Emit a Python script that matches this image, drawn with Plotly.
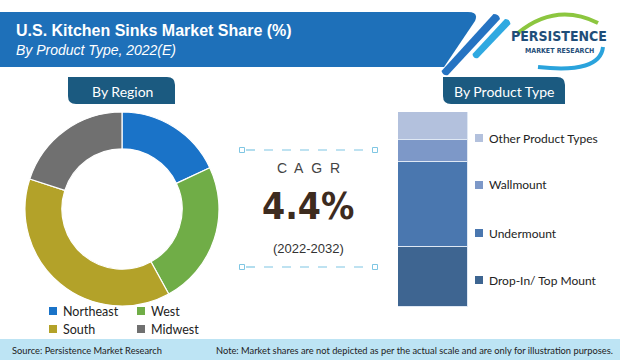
import plotly.graph_objects as go

W, H = 620, 360

# ---------------- data ----------------
region_names = ["Northeast", "West", "South", "Midwest"]
region_values = [18, 24, 38, 20]
region_colors = ["#1a73c8", "#70ad47", "#b3a229", "#707070"]

product_names = ["Drop-In/ Top Mount", "Undermount", "Wallmount", "Other Product Types"]
product_values = [31, 43.5, 11, 14.5]
product_colors = ["#3e6591", "#4a77af", "#7d98c8", "#b3c1dd"]

title_text = "U.S. Kitchen Sinks Market Share (%)"
subtitle_text = "By Product Type, 2022(E)"
cagr_label = "C&nbsp; A&nbsp; G&nbsp; R"
cagr_value = "4.4%"
cagr_period = "(2022-2032)"
source_text = "Source: Persistence Market Research"
note_text = "Note: Market shares are not depicted as per the actual scale and are only for illustration purposes."


def X(px):
    return px / W


def Y(py):
    return 1 - py / H


def P(x, y):
    return f"{X(x):.5f},{Y(y):.5f}"


BODY = "Lato, 'Liberation Sans', sans-serif"

fig = go.Figure()

# donut
cx, cy, r = 122, 209, 97
fig.add_trace(go.Pie(
    labels=region_names, values=region_values, hole=0.62, sort=False,
    direction="clockwise", rotation=0, textinfo="none", hoverinfo="label+percent",
    marker=dict(colors=region_colors, line=dict(color="white", width=1.2)),
    domain=dict(x=[X(cx - r), X(cx + r)], y=[Y(cy + r), Y(cy - r)]),
    showlegend=False,
))

# stacked bar
for name, val, col in zip(product_names, product_values, product_colors):
    fig.add_trace(go.Bar(
        x=[0], y=[val], name=name, width=1,
        marker=dict(color=col, line=dict(color="#dfe8f4", width=1)),
        showlegend=False, hoverinfo="name+y",
    ))

shapes = []
annotations = []


def note(px, py, text, size, color, family=BODY, xanchor="center"):
    annotations.append(dict(x=X(px), y=Y(py), xref="paper", yref="paper", text=text,
                            xanchor=xanchor, yanchor="middle", showarrow=False,
                            font=dict(family=family, size=size, color=color)))


# header band
shapes.append(dict(type="path", xref="paper", yref="paper", layer="below",
                   path=f"M {P(0,12)} L {P(468,12)} Q {P(479,12)} {P(475,21)} L {P(444,67)} L {P(0,67)} Z",
                   fillcolor="#1e70b9", line=dict(width=0)))
# stripes
shapes.append(dict(type="path", xref="paper", yref="paper", layer="below",
                   path=f"M {P(493.5,14)} Q {P(499,14)} {P(500,19)} L {P(448,75)} Q {P(443,76)} {P(441.5,71)} Z",
                   fillcolor="#2573c2", line=dict(width=0)))
shapes.append(dict(type="path", xref="paper", yref="paper", layer="below",
                   path=f"M {P(505,19)} Q {P(510,19)} {P(510.5,24)} L {P(478,58)} Q {P(473,59)} {P(472.5,54)} Z",
                   fillcolor="#2fa9e1", line=dict(width=0)))

# logo arcs
shapes.append(dict(type="path", xref="paper", yref="paper", layer="below",
                   path=f"M {P(518,33)} Q {P(556,2)} {P(598,23)}",
                   line=dict(color="#8cc63f", width=4)))
shapes.append(dict(type="path", xref="paper", yref="paper", layer="below",
                   path=f"M {P(538,67)} Q {P(600,74)} {P(603,47)}",
                   line=dict(color="#2aa3dc", width=4)))


# tabs
def tab(x0, y0, x1, y1, rr=8):
    return (f"M {P(x0,y0)} L {P(x1-rr,y0)} Q {P(x1,y0)} {P(x1,y0+rr)} L {P(x1,y1)} "
            f"L {P(x0+rr,y1)} Q {P(x0,y1)} {P(x0,y1-rr)} Z")


shapes.append(dict(type="path", xref="paper", yref="paper", layer="below", path=tab(68, 77, 175, 104),
                   fillcolor="#1b5a80", line=dict(width=0)))
shapes.append(dict(type="path", xref="paper", yref="paper", layer="below", path=tab(443, 77, 565, 104),
                   fillcolor="#1b5a80", line=dict(width=0)))
note(122, 91, "By Region", 14, "white")
note(504, 91, "By Product Type", 14, "white")

# CAGR box
for yy in (150, 267):
    shapes.append(dict(type="line", xref="paper", yref="paper", x0=X(246), x1=X(371), y0=Y(yy), y1=Y(yy),
                       line=dict(color="#7fc6e3", width=1.2, dash="dash")))
    for xx in (242, 375):
        shapes.append(dict(type="rect", xref="paper", yref="paper", x0=X(xx - 2.5), x1=X(xx + 2.5),
                           y0=Y(yy + 2.5), y1=Y(yy - 2.5), line=dict(color="#7fc6e3", width=1),
                           fillcolor="white"))
note(308, 168, cagr_label, 14, "#444444", "'Liberation Sans', Arial, sans-serif")
note(308, 207, f"<b>{cagr_value}</b>", 37, "#3d2b1f",
     "'DejaVu Sans Condensed', 'Liberation Sans', sans-serif")
note(308, 248, cagr_period, 13, "#333333", "'Liberation Sans', Arial, sans-serif")

# region legend (2x2)
for i, (name, col) in enumerate(zip(region_names, region_colors)):
    colx = [49, 137][i % 2]
    rowy = [311, 329][i // 2]
    shapes.append(dict(type="rect", xref="paper", yref="paper", x0=X(colx), x1=X(colx + 8),
                       y0=Y(rowy + 4), y1=Y(rowy - 4), fillcolor=col, line=dict(width=0)))
    note(colx + 12, rowy, name, 12.5, "#222222", xanchor="left")

# product legend
prod_rows = [280, 233, 185, 138]
for name, col, ry in zip(product_names, product_colors, prod_rows):
    shapes.append(dict(type="rect", xref="paper", yref="paper", x0=X(475), x1=X(483),
                       y0=Y(ry + 4), y1=Y(ry - 4), fillcolor=col, line=dict(width=0)))
    note(487, ry, name, 12, "#222222", xanchor="left")

# header text
note(14, 30, f"<b>{title_text}</b>", 16, "white", "'Liberation Sans', Arial, sans-serif", xanchor="left")
note(14, 50, f"<i>{subtitle_text}</i>", 14, "white", "'Liberation Sans', Arial, sans-serif", xanchor="left")

# logo text
note(559, 36, "<b>PERSISTENCE</b>", 14, "#1f4e79",
     "'Liberation Sans Narrow', 'DejaVu Sans Condensed', sans-serif")
note(559, 51, "<b>MARKET RESEARCH</b>", 7, "#1f4e79", "'DejaVu Sans Condensed', sans-serif")

# footer
shapes.append(dict(type="rect", xref="paper", yref="paper", x0=0, x1=1, y0=0, y1=Y(339),
                   fillcolor="#bde4f4", line=dict(width=0), layer="below"))
note(10, 350, source_text, 9.3, "#222222", xanchor="left")
note(615, 350, note_text, 9.3, "#222222", xanchor="right")

fig.update_layout(
    width=W, height=H, margin=dict(l=0, r=0, t=0, b=0),
    paper_bgcolor="white", plot_bgcolor="rgba(0,0,0,0)",
    barmode="stack", bargap=0,
    xaxis=dict(domain=[X(398), X(468)], range=[-0.5, 0.5], visible=False, fixedrange=True),
    yaxis=dict(domain=[Y(307), Y(112)], range=[0, 100], visible=False, fixedrange=True),
    shapes=shapes, annotations=annotations, showlegend=False,
)

fig.write_html("out.html", config={"displayModeBar": False},
               post_script="document.body.style.margin='0px';document.body.style.padding='0px';")
